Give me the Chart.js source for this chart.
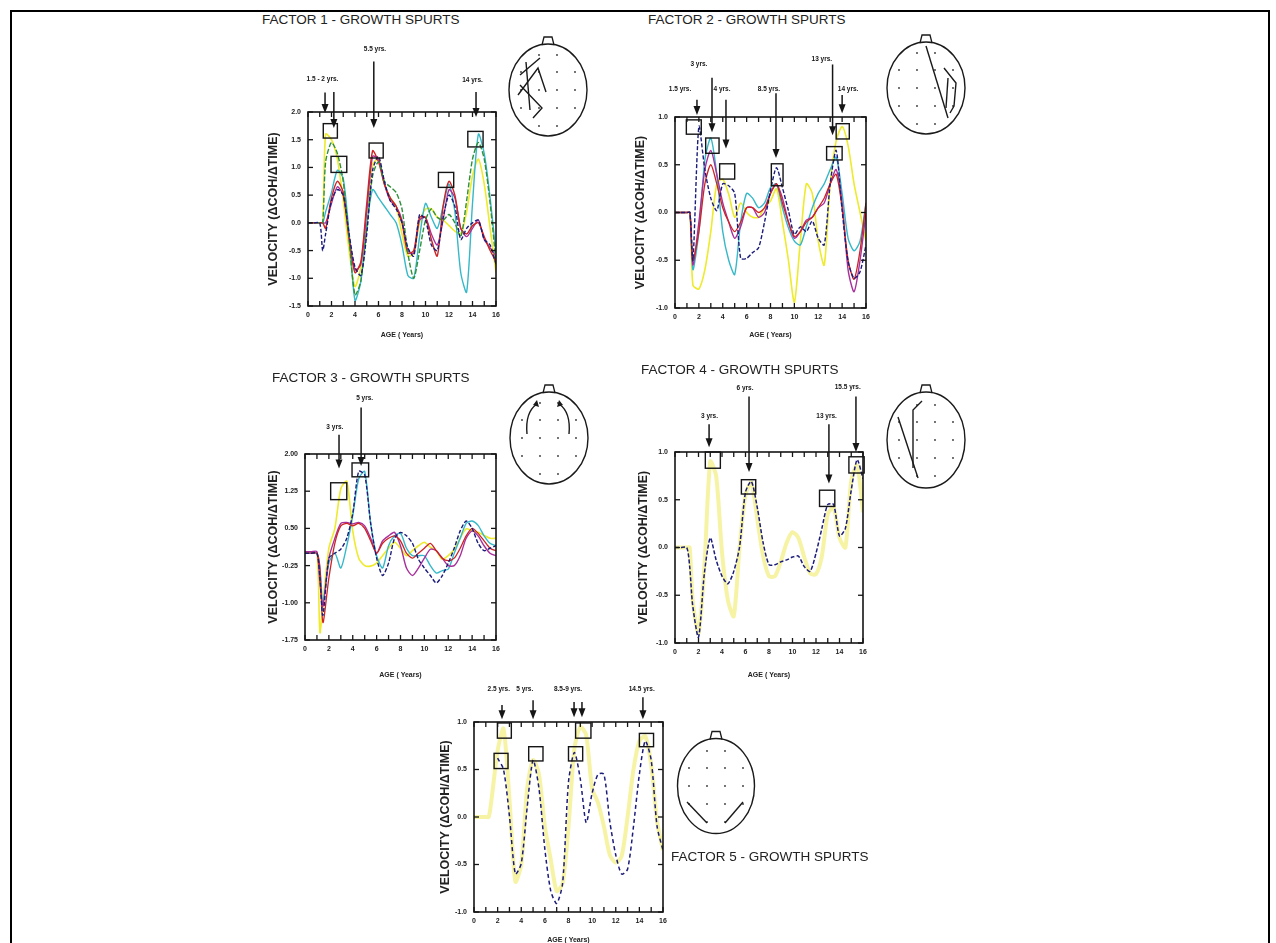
<!DOCTYPE html>
<html><head><meta charset="utf-8">
<script src="https://cdn.jsdelivr.net/npm/chart.js@4.4.1/dist/chart.umd.min.js"></script>
<style>
html,body{margin:0;padding:0;background:#fff;}
body{width:1276px;height:943px;position:relative;overflow:hidden;font-family:"Liberation Sans",Arial,sans-serif;}
#frame{position:absolute;left:10px;top:10px;width:1256px;height:980px;border:2px solid #000;}
.ttl{position:absolute;font-size:13.5px;line-height:16px;color:#222;white-space:nowrap;}
canvas{position:absolute;}
#heads{position:absolute;left:0;top:0;}
</style></head><body>
<div id="frame"></div>
<script>
// ---------------- data ----------------
const AGES = [0,0.5,1,1.25,1.5,2,2.5,3,3.5,4,4.5,5,5.5,6,6.5,7,7.5,8,8.5,9,9.5,10,10.5,11,11.5,12,12.5,13,13.5,14,14.5,15,15.5,16];
const X_TICKS = [0,2,4,6,8,10,12,14,16];
const F1_Y_TICKS = [-1.5,-1.0,-0.5,0.0,0.5,1.0,1.5,2.0];
const F2_Y_TICKS = [-1.0,-0.5,0.0,0.5,1.0];
const F3_Y_TICKS = [-1.75,-1.0,-0.25,0.5,1.25,2.0];
const F4_Y_TICKS = [-1.0,-0.5,0.0,0.5,1.0];
const F5_Y_TICKS = [-1.0,-0.5,0.0,0.5,1.0];

const F1_YELLOW  = [0,0,0,0, 1.6,1.5,1.15,0.4,-0.5,-1.15,-0.8,0.2,1.05,1.15,0.7,0.45,0.3,-0.2,-0.6,-0.55,0.0,0.25,0.25,0.1,0.05,-0.05,-0.15,-0.2,0.2,0.85,1.15,0.7,-0.1,-0.9];
const F1_GREEN   = [0,0,0,0, 1.1,1.45,1.25,0.75,-0.3,-1.3,-1.05,-0.1,0.85,1.1,0.75,0.65,0.55,0.25,-0.55,-1.0,-0.5,0.05,0.25,0.1,0.05,0.15,0.0,-0.25,0.4,1.15,1.45,1.15,0.35,-0.7];
const F1_CYAN    = [0,0,0,0, 0.2,0.55,0.95,0.8,-0.2,-1.4,-1.05,-0.05,0.6,0.45,0.3,0.15,0.0,-0.4,-0.95,-1.0,-0.25,0.35,0.1,-0.1,0.3,0.7,0.2,-0.9,-1.25,0.35,1.6,1.25,0.45,-0.55];
const F1_RED     = [0,0,0,0, -0.1,0.45,0.75,0.55,-0.3,-0.9,-0.7,0.35,1.3,1.1,0.7,0.45,0.3,0.0,-0.55,-0.5,0.1,0.1,-0.3,-0.6,0.3,0.75,0.5,-0.1,-0.2,-0.05,0.0,-0.25,-0.5,-0.7];
const F1_MAGENTA = [0,0,0,0, 0.0,0.35,0.65,0.5,-0.25,-0.85,-0.75,0.2,1.2,1.15,0.7,0.4,0.3,0.05,-0.5,-0.55,0.05,0.1,-0.2,-0.4,0.05,0.6,0.45,-0.1,-0.25,-0.1,0.05,-0.3,-0.45,-0.6];
const F1_NAVY    = [0,0,0,-0.5, -0.2,0.4,0.6,0.5,-0.2,-0.8,-0.95,-0.2,0.95,1.2,0.75,0.4,0.25,0.0,-0.45,-0.6,0.15,0.05,-0.4,-0.5,0.1,0.5,0.3,-0.3,-0.1,0.0,0.05,-0.3,-0.4,-0.75];

const F2_NAVY    = [0,0,0,0, -0.5,0.9,0.45,0.15,0.02,0.3,0.28,0.2,-0.48,-0.48,-0.42,-0.37,-0.1,0.23,0.47,0.26,0.02,-0.23,-0.15,-0.2,-0.09,-0.27,-0.34,0.3,0.65,0.02,-0.51,-0.69,-0.62,-0.34];
const F2_CYAN    = [0,0,0,0, -0.6,-0.2,0.55,0.78,0.4,-0.2,-0.5,-0.65,-0.1,0.2,0.15,0.05,0.1,0.26,0.3,0.05,-0.16,-0.3,-0.34,-0.15,0.05,0.2,0.3,0.45,0.58,0.2,-0.27,-0.4,-0.3,0.1];
const F2_MAGENTA = [0,0,0,0, -0.55,-0.1,0.45,0.65,0.4,0.1,-0.1,-0.27,-0.15,0.05,0.05,-0.05,0.0,0.2,0.3,0.15,-0.1,-0.27,-0.2,-0.08,-0.05,0.05,0.1,0.3,0.45,0.1,-0.6,-0.83,-0.5,0.0];
const F2_YELLOW  = [0,0,0,0, -0.76,-0.8,-0.6,-0.2,0.3,0.35,0.19,-0.05,0.1,0.0,-0.05,-0.05,0.05,0.12,0.25,-0.1,-0.5,-0.94,-0.3,0.3,0.2,-0.3,-0.55,0.3,0.75,0.9,0.7,0.3,0.0,-0.3];
const F2_RED     = [0,0,0,0, -0.5,-0.2,0.3,0.5,0.3,0.05,-0.1,-0.2,-0.1,0.05,0.05,0.0,0.05,0.2,0.3,0.1,-0.1,-0.25,-0.2,-0.1,-0.05,0.05,0.15,0.3,0.4,0.05,-0.5,-0.7,-0.4,0.1];

const F3_YELLOW  = [0,0,0,-1.6, -1.0,0.1,0.5,1.3,1.45,0.45,-0.1,-0.25,-0.26,-0.2,-0.05,0.1,0.22,0.1,-0.05,0.05,0.15,0.22,0.12,0.05,-0.12,-0.05,0.08,0.3,0.49,0.45,0.42,0.36,0.3,0.3];
const F3_CYAN    = [0,0,0,-0.3, -1.0,-0.2,0.0,-0.3,0.15,0.76,1.5,1.65,0.6,-0.05,-0.3,0.15,0.35,0.4,0.1,-0.05,-0.05,-0.05,-0.25,-0.4,-0.35,-0.32,0.0,0.3,0.6,0.65,0.56,0.35,0.2,0.15];
const F3_NAVY    = [0,0,0,-0.5, -1.25,-0.1,0.0,0.08,0.3,0.8,1.65,1.58,0.6,-0.1,-0.45,-0.2,0.3,0.42,0.35,0.2,-0.12,-0.3,-0.45,-0.6,-0.45,-0.2,0.1,0.45,0.65,0.5,0.2,0.05,0.1,0.15];
const F3_MAGENTA = [0.03,0.03,0.03,-0.6, -1.07,-0.1,0.3,0.6,0.62,0.59,0.62,0.55,0.3,0.0,0.25,0.35,0.42,0.15,-0.3,-0.45,-0.3,-0.1,0.08,0.05,-0.1,-0.25,-0.25,-0.05,0.3,0.45,0.35,0.15,0.0,-0.05];
const F3_RED     = [0,0,0,-0.3, -1.4,-0.5,0.2,0.55,0.6,0.55,0.6,0.5,0.25,0.0,0.2,0.3,0.35,0.25,0.0,-0.1,0.0,0.1,0.2,0.05,-0.1,-0.15,-0.1,0.1,0.35,0.5,0.4,0.25,0.1,0.05];

const F4_YELLOW  = [0,0,0,0, -0.55,-0.9,-0.2,0.9,0.75,-0.05,-0.55,-0.72,0.01,0.55,0.68,0.3,-0.09,-0.3,-0.3,-0.15,0.05,0.16,0.1,-0.1,-0.27,-0.28,-0.09,0.35,0.42,0.1,0.0,0.7,0.86,0.37];
const F4_NAVY    = [0,0,0,-0.2, -0.6,-0.94,-0.27,0.1,-0.13,-0.3,-0.38,-0.25,0.01,0.58,0.69,0.42,0.05,-0.18,-0.18,-0.15,-0.13,-0.1,-0.09,-0.2,-0.25,-0.06,0.2,0.45,0.45,0.12,0.2,0.6,0.92,0.72];

const F5_YELLOW  = [0,0,0,0, 0.2,0.7,0.93,0.19,-0.68,-0.5,0.3,0.6,0.45,-0.1,-0.45,-0.78,-0.7,-0.1,0.72,0.95,0.86,0.3,0.15,-0.1,-0.4,-0.48,-0.41,0.0,0.5,0.8,0.85,0.55,-0.05,-0.35];
const F5_NAVY    = [null,null,null,null, null,0.62,0.5,0.01,-0.6,-0.49,0.1,0.6,0.3,-0.34,-0.78,-0.91,-0.7,0.37,0.68,0.4,-0.06,0.25,0.45,0.45,-0.05,-0.4,-0.6,-0.55,-0.1,0.45,0.8,0.6,-0.1,-0.35];

// growth-spurt annotations, in data units: boxes [x1,x2,y1,y2], arrows, labels
const F1_BOXES = [[1.3,2.5,1.53,1.79],[1.96,3.3,0.91,1.2],[5.2,6.4,1.17,1.44],[11.1,12.4,0.64,0.91],[13.6,14.9,1.37,1.65]];
const F1_ARROWS = [{x:1.45,from:2.35,to:1.98},{x:2.2,from:2.36,to:1.71},{x:5.6,from:2.91,to:1.71},{x:14.3,from:2.36,to:1.91}];
const F1_LABELS = [{x:1.23,y:2.6,text:'1.5 - 2 yrs.'},{x:5.7,y:3.13,text:'5.5 yrs.'},{x:14.0,y:2.58,text:'14 yrs.'}];

const F2_BOXES = [[0.95,2.2,0.82,0.97],[2.57,3.69,0.62,0.78],[3.74,5.0,0.35,0.51],[8.07,9.05,0.28,0.51],[12.7,14.0,0.55,0.69],[13.5,14.6,0.77,0.93]];
const F2_ARROWS = [{x:1.84,from:1.18,to:1.02},{x:3.1,from:1.41,to:0.84},{x:4.27,from:1.18,to:0.67},{x:8.46,from:1.25,to:0.57},{x:13.2,from:1.55,to:0.81},{x:14.0,from:1.23,to:1.04}];
const F2_LABELS = [{x:0.42,y:1.29,text:'1.5 yrs.'},{x:2.0,y:1.55,text:'3 yrs.'},{x:3.94,y:1.29,text:'4 yrs.'},{x:7.87,y:1.29,text:'8.5 yrs.'},{x:12.3,y:1.6,text:'13 yrs.'},{x:14.5,y:1.29,text:'14 yrs.'}];

const F3_BOXES = [[2.15,3.5,1.08,1.42],[3.94,5.33,1.54,1.82]];
const F3_ARROWS = [{x:2.85,from:2.39,to:1.71},{x:4.7,from:2.94,to:1.76}];
const F3_LABELS = [{x:2.5,y:2.55,text:'3 yrs.'},{x:5.0,y:3.12,text:'5 yrs.'}];

const F4_BOXES = [[2.58,3.86,0.83,1.0],[5.65,6.87,0.56,0.71],[12.3,13.6,0.43,0.6],[14.8,16.1,0.78,0.95]];
const F4_ARROWS = [{x:2.9,from:1.29,to:1.05},{x:6.3,from:1.58,to:0.79},{x:13.1,from:1.29,to:0.67},{x:15.4,from:1.58,to:1.0}];
const F4_LABELS = [{x:2.94,y:1.37,text:'3 yrs.'},{x:5.96,y:1.67,text:'6 yrs.'},{x:12.9,y:1.37,text:'13 yrs.'},{x:14.7,y:1.68,text:'15.5 yrs.'}];

const F5_BOXES = [[1.98,3.16,0.83,0.99],[1.7,2.88,0.51,0.67],[4.63,5.84,0.59,0.74],[8.0,9.2,0.59,0.74],[8.6,9.9,0.83,0.99],[14.0,15.2,0.74,0.88]];
const F5_ARROWS = [{x:2.37,from:1.18,to:1.03},{x:5.0,from:1.23,to:1.03},{x:8.47,from:1.21,to:1.05},{x:9.14,from:1.21,to:1.05},{x:14.3,from:1.26,to:1.03}];
const F5_LABELS = [{x:2.1,y:1.34,text:'2.5 yrs.'},{x:4.3,y:1.34,text:'5 yrs.'},{x:7.96,y:1.34,text:'8.5-9 yrs.'},{x:14.2,y:1.34,text:'14.5 yrs.'}];

// ---------------- styles & layout ----------------
const FAM = '"Liberation Sans", Arial, sans-serif';
const C = {yellow:'#eeea2c', band:'rgba(240,236,110,0.62)', green:'#2f8f3a', cyan:'#36b8c8', red:'#cc2424', magenta:'#a8309c', navy:'#1c1c7a'};
const PANELS = [
  {title:'FACTOR 1 - GROWTH SPURTS', tpos:[262,20], plot:[308,112,496,304], yr:[-1.5,2.0], yTicks:F1_Y_TICKS, dec:1, xOff:29, yOff:35,
   series:[{d:F1_NAVY,c:C.navy,w:1.4,dash:[4,2]},{d:F1_GREEN,c:C.green,w:1.4,dash:[5,2]},{d:F1_RED,c:C.red,w:1.4},{d:F1_MAGENTA,c:C.magenta,w:1.3},{d:F1_CYAN,c:C.cyan,w:1.4},{d:F1_YELLOW,c:C.yellow,w:1.6}],
   boxes:F1_BOXES, arrows:F1_ARROWS, labels:F1_LABELS},
  {title:'FACTOR 2 - GROWTH SPURTS', tpos:[648,20], plot:[675,117,866,306], yr:[-1,1], yTicks:F2_Y_TICKS, dec:1, xOff:27, yOff:35,
   series:[{d:F2_NAVY,c:C.navy,w:1.4,dash:[4,2]},{d:F2_RED,c:C.red,w:1.3},{d:F2_MAGENTA,c:C.magenta,w:1.4},{d:F2_CYAN,c:C.cyan,w:1.4},{d:F2_YELLOW,c:C.yellow,w:1.6}],
   boxes:F2_BOXES, arrows:F2_ARROWS, labels:F2_LABELS},
  {title:'FACTOR 3 - GROWTH SPURTS', tpos:[272,378], plot:[305,454,496,638], yr:[-1.75,2.0], yTicks:F3_Y_TICKS, dec:2, xOff:35, yOff:32,
   series:[{d:F3_NAVY,c:C.navy,w:1.4,dash:[4,2]},{d:F3_RED,c:C.red,w:1.3},{d:F3_MAGENTA,c:C.magenta,w:1.4},{d:F3_CYAN,c:C.cyan,w:1.4},{d:F3_YELLOW,c:C.yellow,w:1.6}],
   boxes:F3_BOXES, arrows:F3_ARROWS, labels:F3_LABELS},
  {title:'FACTOR 4 - GROWTH SPURTS', tpos:[641,370], plot:[675,452,863,641], yr:[-1,1], yTicks:F4_Y_TICKS, dec:1, xOff:32, yOff:32,
   series:[{d:F4_NAVY,c:C.navy,w:1.5,dash:[4,2]},{d:F4_YELLOW,c:C.band,w:4}],
   boxes:F4_BOXES, arrows:F4_ARROWS, labels:F4_LABELS},
  {title:'FACTOR 5 - GROWTH SPURTS', tpos:[671,857], plot:[474,722,663,910], yr:[-1,1], yTicks:F5_Y_TICKS, dec:1, xOff:28, yOff:29,
   series:[{d:F5_NAVY,c:C.navy,w:1.5,dash:[4,3]},{d:F5_YELLOW,c:C.band,w:4}],
   boxes:F5_BOXES, arrows:F5_ARROWS, labels:F5_LABELS}
];

// draws the plot frame, inward ticks, spurt boxes, arrows and arrow labels through the scales
const framePlugin = {
  id:'frame',
  afterDatasetsDraw(chart, args, o){
    const {ctx, chartArea:a, scales:{x, y}} = chart;
    const ln = (x1,y1,x2,y2)=>{ctx.beginPath();ctx.moveTo(x1,y1);ctx.lineTo(x2,y2);ctx.stroke();};
    ctx.save();
    ctx.strokeStyle = '#151515';
    ctx.lineWidth = 1.6;
    ctx.strokeRect(a.left, a.top, a.right-a.left, a.bottom-a.top);
    ctx.lineWidth = 1.3;
    for (let v = 0; v <= 16; v++) {
      const px = x.getPixelForValue(v);
      ln(px, a.bottom, px, a.bottom-5); ln(px, a.top, px, a.top+5);
    }
    y.ticks.forEach(t => { const py = y.getPixelForValue(t.value); ln(a.left, py, a.left+5, py); ln(a.right, py, a.right-5, py); });
    ctx.lineWidth = 1.4;
    (o.boxes||[]).forEach(b => {
      const x1 = x.getPixelForValue(b[0]), x2 = x.getPixelForValue(b[1]);
      const y1 = y.getPixelForValue(b[3]), y2 = y.getPixelForValue(b[2]);
      ctx.strokeRect(x1, y1, x2-x1, y2-y1);
    });
    ctx.fillStyle = '#151515';
    (o.arrows||[]).forEach(ar => {
      const px = x.getPixelForValue(ar.x), y1 = y.getPixelForValue(ar.from), y2 = y.getPixelForValue(ar.to);
      ctx.lineWidth = 1.5; ln(px, y1, px, y2-6);
      ctx.beginPath(); ctx.moveTo(px-3.5, y2-9); ctx.lineTo(px+3.5, y2-9); ctx.lineTo(px, y2); ctx.closePath(); ctx.fill();
    });
    ctx.font = 'bold 6.5px ' + FAM; ctx.textAlign = 'center'; ctx.textBaseline = 'middle';
    (o.labels||[]).forEach(l => ctx.fillText(l.text, x.getPixelForValue(l.x), y.getPixelForValue(l.y)));
    ctx.restore();
  }
};

PANELS.forEach(p => {
  const [l,t,r,b] = p.plot;
  const YW = p.yOff + 6, XH = p.xOff + 4, TOP = 80, RIGHT = 16;
  const w = YW + (r-l) + RIGHT, h = TOP + (b-t) + XH + 2;
  const cv = document.createElement('canvas');
  cv.width = w; cv.height = h;
  cv.style.left = (l-YW)+'px'; cv.style.top = (t-TOP)+'px';
  cv.style.width = w+'px'; cv.style.height = h+'px';
  document.body.appendChild(cv);
  const tt = document.createElement('div');
  tt.className = 'ttl'; tt.textContent = p.title;
  tt.style.left = p.tpos[0]+'px'; tt.style.top = (p.tpos[1]-8)+'px';
  document.body.appendChild(tt);
  new Chart(cv, {
    type:'line',
    data:{datasets: p.series.map(s => ({
      data: AGES.map((a,i) => ({x:a, y:s.d[i]})),
      borderColor:s.c, borderWidth:s.w, borderDash:s.dash||[], pointRadius:0, tension:0.25, fill:false, spanGaps:false
    }))},
    options:{
      responsive:false, animation:false, devicePixelRatio:1,
      layout:{padding:{top:TOP, right:RIGHT, left:0, bottom:0}},
      plugins:{legend:{display:false}, tooltip:{enabled:false}, frame:{boxes:p.boxes, arrows:p.arrows, labels:p.labels}},
      scales:{
        x:{type:'linear', min:0, max:16,
           afterBuildTicks: sc => { sc.ticks = X_TICKS.map(v => ({value:v})); },
           afterFit: sc => { sc.height = XH; },
           grid:{display:false, drawTicks:false}, border:{display:false},
           ticks:{padding:5, autoSkip:false, maxRotation:0, color:'#222', font:{size:7, weight:'bold', family:FAM}},
           title:{display:true, text:'AGE ( Years)', color:'#222', padding:0, font:{size:7, weight:'bold', family:FAM, lineHeight:1}}},
        y:{type:'linear', min:p.yr[0], max:p.yr[1],
           afterBuildTicks: sc => { sc.ticks = p.yTicks.map(v => ({value:v})); },
           afterFit: sc => { sc.width = YW; },
           grid:{display:false, drawTicks:false}, border:{display:false},
           ticks:{padding:7, color:'#222', font:{size:7, weight:'bold', family:FAM}, callback: v => Number(v).toFixed(p.dec)},
           title:{display:true, text:'VELOCITY (ΔCOH/ΔTIME)', color:'#222', padding:0, font:{size:12.5, weight:'bold', family:FAM, lineHeight:1}}}
      }
    },
    plugins:[framePlugin]
  });
});

// ---------------- head diagrams (decoration) ----------------
const NS = 'http://www.w3.org/2000/svg';
const HEADS = [
  {cx:548, cy:90, rx:39, ry:46, lines:[[[-28,-15],[-8,-32]],[[-30,5],[-10,-22],[-2,2]],[[-22,-28],[-18,20]],[[-28,-5],[-6,18],[-15,28]]]},
  {cx:926, cy:88, rx:39, ry:46, lines:[[[0,-42],[22,30]],[[18,-20],[30,-5],[28,18],[24,25]],[[22,-10],[20,20]]]},
  {cx:549, cy:438, rx:39, ry:46, lines:[], curved:true},
  {cx:926, cy:440, rx:39, ry:48, lines:[[[-28,-23],[-8,38]],[[-4,-39],[-13,-30],[-13,28]]]},
  {cx:716, cy:786, rx:38.5, ry:47.5, lines:[[[-29,16],[-9,37]],[[27,16],[9,37]]]}
];
const svg = document.createElementNS(NS,'svg');
svg.setAttribute('id','heads'); svg.setAttribute('width','1276'); svg.setAttribute('height','943');
const mk = (tag, attrs) => { const e = document.createElementNS(NS, tag); for (const k in attrs) e.setAttribute(k, attrs[k]); svg.appendChild(e); return e; };
HEADS.forEach(hd => {
  const {cx, cy, rx, ry} = hd;
  mk('ellipse', {cx, cy, rx, ry, fill:'none', stroke:'#1a1a1a', 'stroke-width':1.4});
  mk('path', {d:`M${cx-6},${cy-ry+1} L${cx-4},${cy-ry-7} L${cx+4},${cy-ry-7} L${cx+6},${cy-ry+1}`, fill:'none', stroke:'#1a1a1a', 'stroke-width':1.3});
  [-27,-9,9,27].forEach(dx => [-35,-18,0,18,36].forEach(dy => {
    if ((dx/rx)**2 + (dy/ry)**2 < 0.78) mk('circle', {cx:cx+dx, cy:cy+dy, r:0.9, fill:'#333'});
  }));
  hd.lines.forEach(pl => mk('polyline', {points: pl.map(q => (cx+q[0])+','+(cy+q[1])).join(' '), fill:'none', stroke:'#1a1a1a', 'stroke-width':1.4}));
  if (hd.curved) {
    mk('path', {d:`M${cx-22},${cy-4} Q${cx-24},${cy-26} ${cx-12},${cy-34}`, fill:'none', stroke:'#1a1a1a', 'stroke-width':1.4});
    mk('path', {d:`M${cx-12},${cy-38} L${cx-10},${cy-31} L${cx-16},${cy-33} Z`, fill:'#1a1a1a'});
    mk('path', {d:`M${cx+20},${cy-4} Q${cx+22},${cy-26} ${cx+10},${cy-34}`, fill:'none', stroke:'#1a1a1a', 'stroke-width':1.4});
    mk('path', {d:`M${cx+10},${cy-38} L${cx+8},${cy-31} L${cx+14},${cy-33} Z`, fill:'#1a1a1a'});
  }
});
document.body.appendChild(svg);
</script>
</body></html>
